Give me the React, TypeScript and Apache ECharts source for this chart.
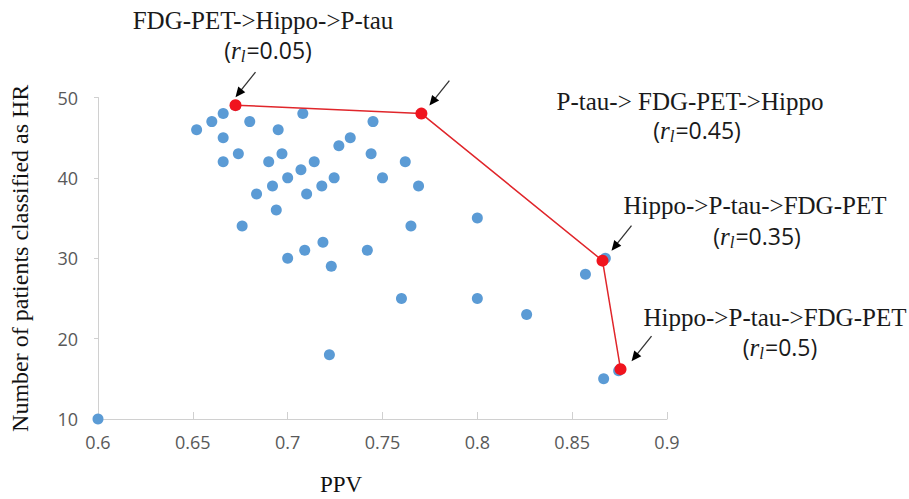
import React, { useEffect, useRef } from "react";
import * as echarts from "echarts";

const bluePoints: [number, number][] = [
  [0.6, 10], [0.652, 46], [0.66, 47], [0.666, 48], [0.6725, 49], [0.68, 47],
  [0.666, 45], [0.674, 43], [0.666, 42], [0.6836, 38], [0.676, 34],
  [0.708, 48], [0.745, 47], [0.695, 46], [0.733, 45], [0.727, 44],
  [0.697, 43], [0.744, 43], [0.69, 42], [0.714, 42], [0.707, 41],
  [0.7, 40], [0.7245, 40], [0.692, 39], [0.718, 39], [0.71, 38],
  [0.694, 36], [0.7186, 32], [0.709, 31], [0.742, 31], [0.7, 30],
  [0.723, 29], [0.7705, 48], [0.762, 42], [0.75, 40], [0.769, 39],
  [0.8, 35], [0.765, 34], [0.76, 25], [0.8, 25], [0.826, 23], [0.722, 18],
  [0.8675, 30], [0.857, 28], [0.8745, 16], [0.8666, 15],
];

const frontierPoints: [number, number][] = [
  [0.6725, 49.05], [0.7705, 48], [0.866, 29.7], [0.8755, 16.2],
];

const orderLabels = [
  "FDG-PET->Hippo->P-tau",
  "P-tau-> FDG-PET->Hippo",
  "Hippo->P-tau->FDG-PET",
  "Hippo->P-tau->FDG-PET",
];
const rlValues = ["0.05", "0.45", "0.35", "0.5"];

const xTicks = { min: 0.6, max: 0.9, interval: 0.05 };
const yTicks = { min: 10, max: 50, interval: 10 };

// layout of annotations (pixels): first line, second line
const labelPos: [number, number][] = [
  [263, 20], [690, 101], [755, 205], [775, 317],
];
const rlPos: [number, number][] = [
  [268, 50], [697, 130], [757, 236], [780, 347],
];
// arrow offsets relative to the red point: tail, tip
const arrowOffsets: [[number, number], [number, number]][] = [
  [[20, -33], [0, -8]],
  [[28, -33], [8, -8]],
  [[29, -35], [9, -10]],
  [[31, -33], [11, -8]],
];

const SERIF = "'Liberation Serif', 'Times New Roman', serif";
const SANS = "'Open Sans', 'Noto Sans', sans-serif";

export default function App() {
  const ref = useRef<HTMLDivElement>(null);
  useEffect(() => {
    if (!ref.current) return;
    const chart = echarts.init(ref.current, undefined, { renderer: "svg" });
    chart.setOption({
      animation: false,
      backgroundColor: "#fff",
      grid: { left: 98, right: 242, top: 97.5, bottom: 80 },
      xAxis: {
        type: "value",
        min: xTicks.min,
        max: xTicks.max,
        interval: xTicks.interval,
        axisLine: { show: true, lineStyle: { color: "#d0d0d0", width: 1 } },
        axisTick: { show: true, inside: true, length: 7, lineStyle: { color: "#d0d0d0" } },
        splitLine: { show: false },
        axisLabel: {
          color: "#595959",
          fontFamily: SANS,
          fontSize: 18,
          margin: 14,
          formatter: (v: number) => String(+v.toFixed(2)),
        },
      },
      yAxis: {
        type: "value",
        min: yTicks.min,
        max: yTicks.max,
        interval: yTicks.interval,
        name: "Number of patients classified as HR",
        nameLocation: "middle",
        nameRotate: 90,
        nameGap: 66,
        nameTextStyle: { fontFamily: SERIF, fontSize: 24, color: "#111" },
        axisLine: { show: true, lineStyle: { color: "#d0d0d0", width: 1 } },
        axisTick: { show: true, length: 4, lineStyle: { color: "#d0d0d0" } },
        splitLine: { show: false },
        axisLabel: {
          color: "#595959",
          fontFamily: SANS,
          fontSize: 18,
          margin: 20,
        },
      },
      series: [
        {
          type: "scatter",
          data: bluePoints,
          symbolSize: 11,
          itemStyle: { color: "#5b9bd5", opacity: 1 },
          z: 2,
        },
        {
          type: "line",
          data: frontierPoints,
          symbol: "circle",
          symbolSize: 12,
          showSymbol: true,
          lineStyle: { color: "#e0262b", width: 1.5 },
          itemStyle: { color: "#f0141e" },
          z: 3,
        },
      ],
    });

    const graphics: any[] = [];
    frontierPoints.forEach((p, i) => {
      const px = chart.convertToPixel({ gridIndex: 0 }, p) as number[];
      const [tailOff, tipOff] = arrowOffsets[i];
      const tail = [px[0] + tailOff[0], px[1] + tailOff[1]];
      const tip = [px[0] + tipOff[0], px[1] + tipOff[1]];
      const dx = tip[0] - tail[0];
      const dy = tip[1] - tail[1];
      const len = Math.hypot(dx, dy);
      const ux = dx / len;
      const uy = dy / len;
      const hl = 10;
      const hw = 4.5;
      const bx = tip[0] - ux * hl;
      const by = tip[1] - uy * hl;
      graphics.push({
        type: "line",
        shape: { x1: tail[0], y1: tail[1], x2: bx + ux * 2, y2: by + uy * 2 },
        style: { stroke: "#333", lineWidth: 1.3 },
        z: 10,
      });
      graphics.push({
        type: "polygon",
        shape: {
          points: [
            [tip[0], tip[1]],
            [bx - uy * hw, by + ux * hw],
            [bx + uy * hw, by - ux * hw],
          ],
        },
        style: { fill: "#000" },
        z: 10,
      });
      const [lx, ly] = labelPos[i];
      graphics.push({
        type: "text",
        x: lx,
        y: ly,
        style: {
          text: orderLabels[i],
          fontFamily: SERIF,
          fontSize: 25,
          fill: "#1a1a1a",
          align: "center",
          verticalAlign: "middle",
        },
        z: 10,
      });
      const [rx, ry] = rlPos[i];
      graphics.push({
        type: "text",
        x: rx,
        y: ry,
        style: {
          text: `{a|(}{r|r}{s|l}{a|=${rlValues[i]})}`,
          align: "center",
          verticalAlign: "middle",
          rich: {
            a: { fontFamily: SANS, fontSize: 23, fill: "#1a1a1a", lineHeight: 30, verticalAlign: "middle" },
            r: { fontFamily: SERIF, fontStyle: "italic", fontSize: 25, fill: "#1a1a1a", lineHeight: 30, verticalAlign: "middle" },
            s: { fontFamily: SERIF, fontStyle: "italic", fontSize: 17, fill: "#1a1a1a", lineHeight: 30, verticalAlign: "bottom", padding: [0, 1, 0, 0] },
          },
        },
        z: 10,
      });
    });
    graphics.push({
      type: "text",
      x: 341,
      y: 484,
      style: {
        text: "PPV",
        fontFamily: SERIF,
        fontSize: 23,
        fill: "#111",
        align: "center",
        verticalAlign: "middle",
      },
    });
    chart.setOption({ graphic: graphics });

    return () => chart.dispose();
  }, []);

  return (
    <div
      ref={ref}
      style={{ position: "absolute", left: 0, top: 0, width: 909, height: 499 }}
    />
  );
}
